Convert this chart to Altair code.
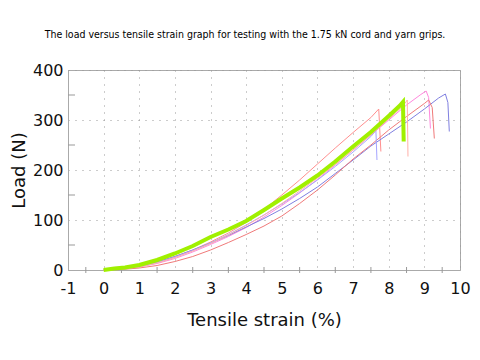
import altair as alt
import pandas as pd

TITLE = "The load versus tensile strain graph for testing with the 1.75 kN cord and yarn grips."
X_TITLE = "Tensile strain (%)"
Y_TITLE = "Load (N)"
X_TICKS = [-1, 0, 1, 2, 3, 4, 5, 6, 7, 8, 9, 10]
Y_TICKS = [0, 100, 200, 300, 400]
X_MINOR = [-0.5, 0.5, 1.5, 2.5, 3.5, 4.5, 5.5, 6.5, 7.5, 8.5, 9.5]
Y_MINOR = [50, 150, 250, 350]

# specimen curves: strain (%) and load (N)
a_x = [0, 0.3, 0.6, 1, 1.5, 2, 2.5, 3, 3.5, 4, 4.5, 5, 5.5, 6, 6.5, 7, 7.5, 8, 8.3, 8.4, 8.42]
a_y = [0, 3, 5, 10, 20, 33, 48, 66, 81, 98, 120, 143, 165, 189, 217, 247, 276, 308, 328, 336, 257]

b_x = [0, 0.5, 1, 1.5, 2, 2.5, 3, 3.5, 4, 4.5, 5, 5.5, 6, 6.5, 7, 7.5, 7.72, 7.78]
b_y = [0, 3, 8, 16, 27, 40, 56, 74, 95, 121, 150, 180, 212, 244, 275, 305, 322, 237]

c_x = [0, 0.5, 1, 1.5, 2, 2.5, 3, 3.5, 4, 4.5, 5, 5.5, 6, 6.5, 7, 7.5, 8, 8.5, 8.9, 9.05, 9.12, 9.17]
c_y = [0, 2, 6, 13, 23, 36, 51, 67, 85, 106, 129, 154, 181, 210, 240, 270, 300, 330, 351, 358, 345, 283]

d_x = [0, 0.5, 1, 1.5, 2, 2.5, 3, 3.5, 4, 4.5, 5, 5.5, 6, 6.5, 7, 7.5, 8, 8.5, 9, 9.4, 9.59, 9.66, 9.7]
d_y = [0, 3, 8, 16, 27, 40, 54, 69, 86, 103, 122, 143, 166, 193, 220, 248, 272, 296, 322, 344, 352, 335, 277]

e_x = [0, 0.5, 1, 1.5, 2, 2.5, 3, 3.5, 4, 4.5, 5, 5.5, 6, 6.5, 7, 7.5, 8, 8.5, 9, 9.12, 9.22, 9.28]
e_y = [0, 1, 4, 9, 17, 27, 40, 55, 71, 88, 108, 133, 160, 190, 222, 250, 280, 307, 333, 340, 325, 263]

g_x = [0, 0.5, 1, 1.5, 2, 2.5, 3, 3.5, 4, 4.5, 5, 5.5, 6, 6.5, 7, 7.5, 7.64, 7.67]
g_y = [0, 2, 7, 15, 26, 39, 54, 71, 90, 110, 132, 155, 180, 207, 236, 267, 279, 220]

i_x = [0, 0.5, 1, 1.5, 2, 2.5, 3, 3.5, 4, 4.5, 5, 5.5, 6, 6.5, 7, 7.5, 8, 8.4, 8.52, 8.54]
i_y = [0, 2, 6, 14, 25, 38, 53, 70, 89, 110, 133, 158, 184, 211, 240, 270, 302, 328, 340, 227]

THIN_NAMES = ["B", "C", "D", "E", "G", "I"]
THIN_COLORS = ["#ff8f8f", "#ff88dd", "#7f7fe0", "#f07a7a", "#a5a5ff", "#ffb0a8"]
THIN_X = [b_x, c_x, d_x, e_x, g_x, i_x]
THIN_Y = [b_y, c_y, d_y, e_y, g_y, i_y]

rows = []
for name, xs, ys in zip(THIN_NAMES, THIN_X, THIN_Y):
    for k, (xv, yv) in enumerate(zip(xs, ys)):
        rows.append({"name": name, "i": k, "x": xv, "y": yv})
thin_df = pd.DataFrame(rows)
green_df = pd.DataFrame({"i": list(range(len(a_x))), "x": a_x, "y": a_y})
xminor_df = pd.DataFrame({"x": X_MINOR})
yminor_df = pd.DataFrame({"y": Y_MINOR})

common = dict(labelFont="DejaVu Sans", labelFontSize=16, labelColor="#111111",
              titleFont="DejaVu Sans", titleFontSize=18, titleFontWeight="normal",
              titleColor="#111111", domainColor="#aaaaaa", gridColor="#999999",
              gridDash=[1, 6], gridWidth=1, grid=True, tickSize=0,
              labelFlush=False, labelOverlap=False)

xscale = alt.Scale(domain=[-1, 10], nice=False, zero=False)
yscale = alt.Scale(domain=[0, 400], nice=False)
xaxis = alt.Axis(values=X_TICKS, title=X_TITLE, labelPadding=10, titlePadding=15,
                 labelExpr="datum.value < 0 ? '-' + abs(datum.value) : '' + datum.value",
                 **common)
yaxis = alt.Axis(values=Y_TICKS, title=Y_TITLE, labelPadding=5, titlePadding=4,
                 format="d", **common)

xenc = alt.X("x:Q", scale=xscale, axis=xaxis)
yenc = alt.Y("y:Q", scale=yscale, axis=yaxis)

thin = alt.Chart(thin_df).mark_line(strokeWidth=1, interpolate="linear").encode(
    x=xenc, y=yenc,
    color=alt.Color("name:N", scale=alt.Scale(domain=THIN_NAMES, range=THIN_COLORS), legend=None),
    order="i:Q",
)
green = alt.Chart(green_df).mark_line(strokeWidth=4, color="#a0f000").encode(
    x=xenc, y=yenc, order="i:Q"
)
xminor = alt.Chart(xminor_df).mark_rule(color="#999999", strokeWidth=1).encode(
    x=xenc, y=alt.value(197), y2=alt.value(203)
)
yminor = alt.Chart(yminor_df).mark_rule(color="#999999", strokeWidth=1).encode(
    y=yenc, x=alt.value(0), x2=alt.value(7)
)

chart = alt.layer(xminor, yminor, thin, green).properties(
    width=392, height=200,
    title=alt.TitleParams(TITLE, font="DejaVu Sans Condensed, Roboto Condensed, Liberation Sans Narrow, Roboto, sans-serif",
                          fontSize=10.5, fontWeight=500, color="#000000", anchor="middle",
                          dx=-19, offset=22),
    autosize=alt.AutoSizeParams(type="none"),
    padding={"left": 60, "top": 62, "right": 12, "bottom": 70},
).configure_view(stroke="#aaaaaa", strokeWidth=1)

chart.save("out.html", embed_options={"renderer": "svg", "actions": False})
